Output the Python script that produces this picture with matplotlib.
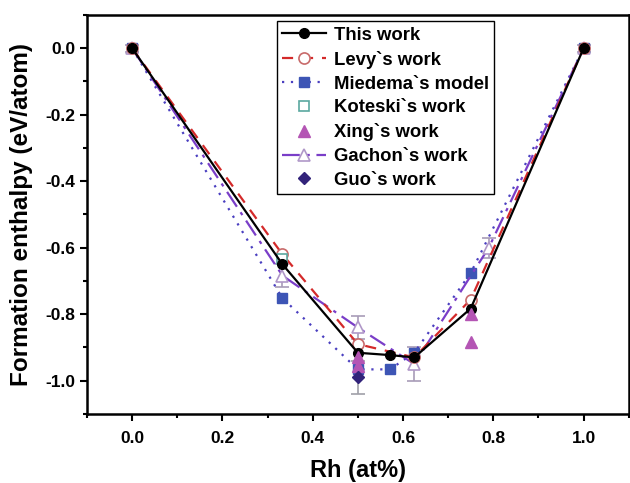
import matplotlib
matplotlib.use("Agg")
import matplotlib.pyplot as plt
from matplotlib.ticker import MultipleLocator

plt.rcParams['font.family'] = ['Liberation Sans', 'DejaVu Sans']
plt.rcParams['font.weight'] = 'bold'

# Data
this_x = [0.0, 0.333, 0.5, 0.571, 0.625, 0.75, 1.0]
this_y = [0.0, -0.65, -0.916, -0.923, -0.93, -0.783, 0.0]

levy_x = [0.0, 0.333, 0.5, 0.625, 0.75, 1.0]
levy_y = [0.0, -0.62, -0.89, -0.93, -0.756, 0.0]

miedema_x = [0.0, 0.333, 0.5, 0.571, 0.625, 0.75, 1.0]
miedema_y = [0.0, -0.752, -0.966, -0.966, -0.916, -0.676, 0.0]

koteski_x = [0.333]
koteski_y = [-0.633]

xing_x = [0.5, 0.5, 0.75, 0.75]
xing_y = [-0.93, -0.955, -0.80, -0.885]

gachon_x = [0.0, 0.333, 0.5, 0.625, 0.79, 1.0]
gachon_y = [0.0, -0.684, -0.84, -0.95, -0.60, 0.0]
gachon_err = [0.01, 0.035, 0.035, 0.05, 0.03, 0.01]

guo_x = [0.5]
guo_y = [-0.99]
guo_err = [0.05]

xticks = [0.0, 0.2, 0.4, 0.6, 0.8, 1.0]
yticks = [0.0, -0.2, -0.4, -0.6, -0.8, -1.0]

fig = plt.figure(figsize=(6.3, 4.83), dpi=100)
ax = fig.add_axes([0.138, 0.143, 0.860, 0.826])

ax.errorbar(gachon_x, gachon_y, yerr=gachon_err, fmt='none', ecolor='#a89cb8',
            elinewidth=1.2, capsize=5, capthick=1.2, zorder=1)
ax.errorbar(guo_x, guo_y, yerr=guo_err, fmt='none', ecolor='#a0a0a8',
            elinewidth=1.2, capsize=5, capthick=1.2, zorder=1)

ax.plot(miedema_x, miedema_y, linestyle=(0, (1, 3)), color='#4a3fc0', lw=1.6,
        marker='s', ms=6.5, mfc='#3d55b5', mec='#3d55b5', label='Miedema`s model', zorder=2)
ax.plot(gachon_x, gachon_y, linestyle=(0, (8, 3, 1.5, 3)), color='#7a3ec8', lw=1.6,
        marker='^', ms=9, mfc='white', mec='#b098c8', mew=1.2, label='Gachon`s work', zorder=3)
ax.plot(levy_x, levy_y, linestyle=(0, (5, 4)), color='#d42a2a', lw=1.6,
        marker='o', ms=8, mfc='white', mec='#c86a6a', mew=1.2, label='Levy`s work', zorder=4)
ax.plot(koteski_x, koteski_y, linestyle='none', marker='s', ms=6.5, mfc='white',
        mec='#5aa8a0', mew=1.2, label='Koteski`s work', zorder=5)
ax.plot(this_x, this_y, linestyle='-', color='black', lw=1.6,
        marker='o', ms=7, mfc='black', mec='black', label='This work', zorder=6)
ax.plot(xing_x, xing_y, linestyle='none', marker='^', ms=8.5, mfc='#b455b4',
        mec='#b455b4', label='Xing`s work', zorder=7)
ax.plot(guo_x, guo_y, linestyle='none', marker='D', ms=6.5, mfc='#32237a',
        mec='#32237a', label='Guo`s work', zorder=8)

ax.set_xlim(-0.1, 1.1)
ax.set_ylim(-1.1, 0.1)
ax.set_xticks(xticks)
ax.set_xticklabels([f"{v:.1f}" for v in xticks])
ax.set_yticks(yticks)
ax.set_yticklabels([f"{v:.1f}" for v in yticks])
ax.xaxis.set_minor_locator(MultipleLocator(0.1))
ax.yaxis.set_minor_locator(MultipleLocator(0.1))
ax.tick_params(which='major', direction='out', length=5, width=1.5, labelsize=12.5)
ax.tick_params(axis='x', which='major', pad=7)
ax.tick_params(which='minor', direction='out', length=3, width=1.5)
for s in ax.spines.values():
    s.set_linewidth(1.8)

ax.set_xlabel('Rh (at%)', fontsize=17, fontweight='bold', labelpad=10)
ax.set_ylabel('Formation enthalpy (eV/atom)', fontsize=17.5, fontweight='bold', labelpad=9)

handles, labels = ax.get_legend_handles_labels()
order = ['This work', 'Levy`s work', 'Miedema`s model', 'Koteski`s work',
         'Xing`s work', 'Gachon`s work', 'Guo`s work']
hmap = dict(zip(labels, handles))
leg = ax.legend([hmap[k] for k in order], order, loc='upper left',
                bbox_to_anchor=(0.35, 0.984), borderaxespad=0,
                frameon=True, fancybox=False, edgecolor='black', framealpha=1,
                handlelength=2.4, labelspacing=0.37, handletextpad=0.4,
                borderpad=0.3, prop={'weight': 'bold', 'size': 13.3})
leg.get_frame().set_linewidth(1.0)

fig.savefig('out.png', dpi=100)
